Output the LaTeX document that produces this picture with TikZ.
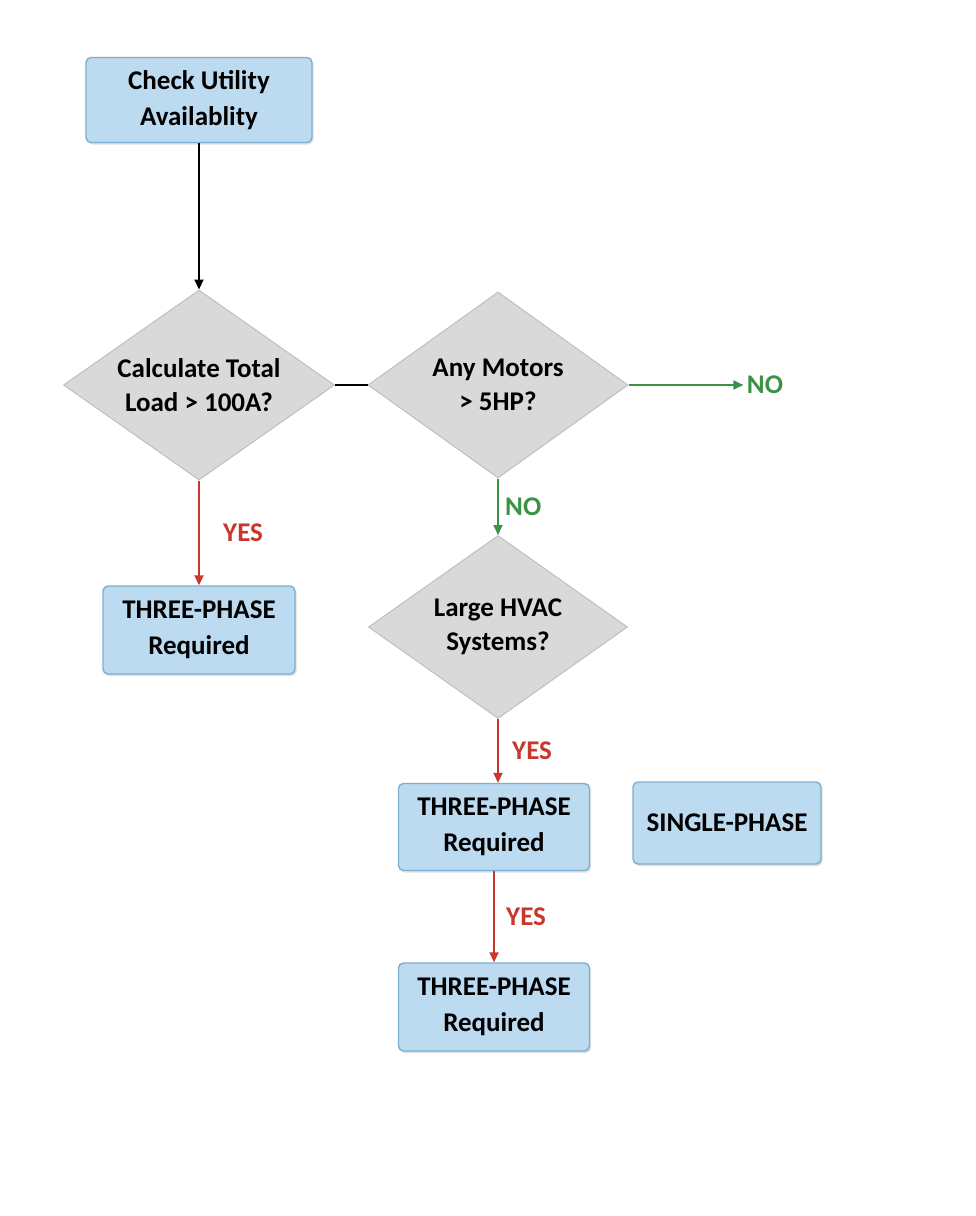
\documentclass[tikz,border=0pt]{standalone}
\usepackage{fontspec}
\setmainfont{Carlito}
\usetikzlibrary{shapes.geometric,arrows.meta,shadows}
\definecolor{boxfill}{HTML}{BCDAF0}
\definecolor{boxdraw}{HTML}{7FAED3}
\definecolor{dfill}{HTML}{D9D9D9}
\definecolor{ddraw}{HTML}{BFBFBF}
\definecolor{red}{HTML}{C9372C}
\definecolor{grn}{HTML}{3A9245}
\tikzset{
 procbox/.style={draw=boxdraw,fill=boxfill,line width=1.4pt,rounded corners=5pt,align=center,font=\fontsize{27}{36}\selectfont\bfseries,drop shadow={opacity=0.25,shadow xshift=1.5pt,shadow yshift=-2pt}},
 dec/.style={diamond,draw=ddraw,fill=dfill,line width=1pt,align=center,font=\fontsize{27}{34}\selectfont\bfseries,inner sep=-20pt},
 redarr/.style={draw=red,line width=1.8pt,-{Triangle[length=10pt,width=9pt]}},
 grnarr/.style={draw=grn,line width=1.8pt,-{Triangle[length=10pt,width=9pt]}},
 redlbl/.style={text=red,font=\fontsize{27}{30}\selectfont\bfseries},
 grnlbl/.style={text=grn,font=\fontsize{27}{30}\selectfont\bfseries},
}
\begin{document}
\begin{tikzpicture}[x=1pt,y=-1pt]
\useasboundingbox[fill=white] (0,0) rectangle (976,1216);
\node[procbox,minimum width=226pt,minimum height=85pt] (check) at (199,100) {Check Utility\\Availablity};
\node[dec,minimum width=271pt,minimum height=190pt] (d1) at (199,385) {Calculate Total\\Load > 100A?};
\node[dec,minimum width=260pt,minimum height=186pt] (d2) at (498,385) {Any Motors\\> 5HP?};
\node[dec,minimum width=259pt,minimum height=183pt] (d3) at (498,627) {Large HVAC\\Systems?};
\node[procbox,minimum width=192pt,minimum height=88pt] (tp1) at (199,630) {THREE-PHASE\\Required};
\node[procbox,minimum width=191pt,minimum height=87pt] (tp2) at (494,827) {THREE-PHASE\\Required};
\node[procbox,minimum width=188pt,minimum height=82pt] (sp) at (727,823) {SINGLE-PHASE};
\node[procbox,minimum width=191pt,minimum height=88pt] (tp3) at (494,1007) {THREE-PHASE\\Required};
\node[grnlbl] (no1) at (765,385) {NO};
\draw[line width=1.8pt,-{Triangle[length=10pt,width=9pt]}] (check.south) -- (d1.north);
\draw[line width=1.8pt] (d1.east) -- (d2.west);
\draw[grnarr] (d2.east) -- (no1.west);
\draw[grnarr] (d2.south) -- node[grnlbl,right=3pt] {NO} (d3.north);
\draw[redarr] (d1.south) -- node[redlbl,right=20pt] {YES} (tp1.north);
\draw[redarr] (d3.south) -- node[redlbl,right=10pt] {YES} (d3.south |- tp2.north);
\draw[redarr] (tp2.south) -- node[redlbl,right=8pt] {YES} (tp3.north);
\end{tikzpicture}
\end{document}
